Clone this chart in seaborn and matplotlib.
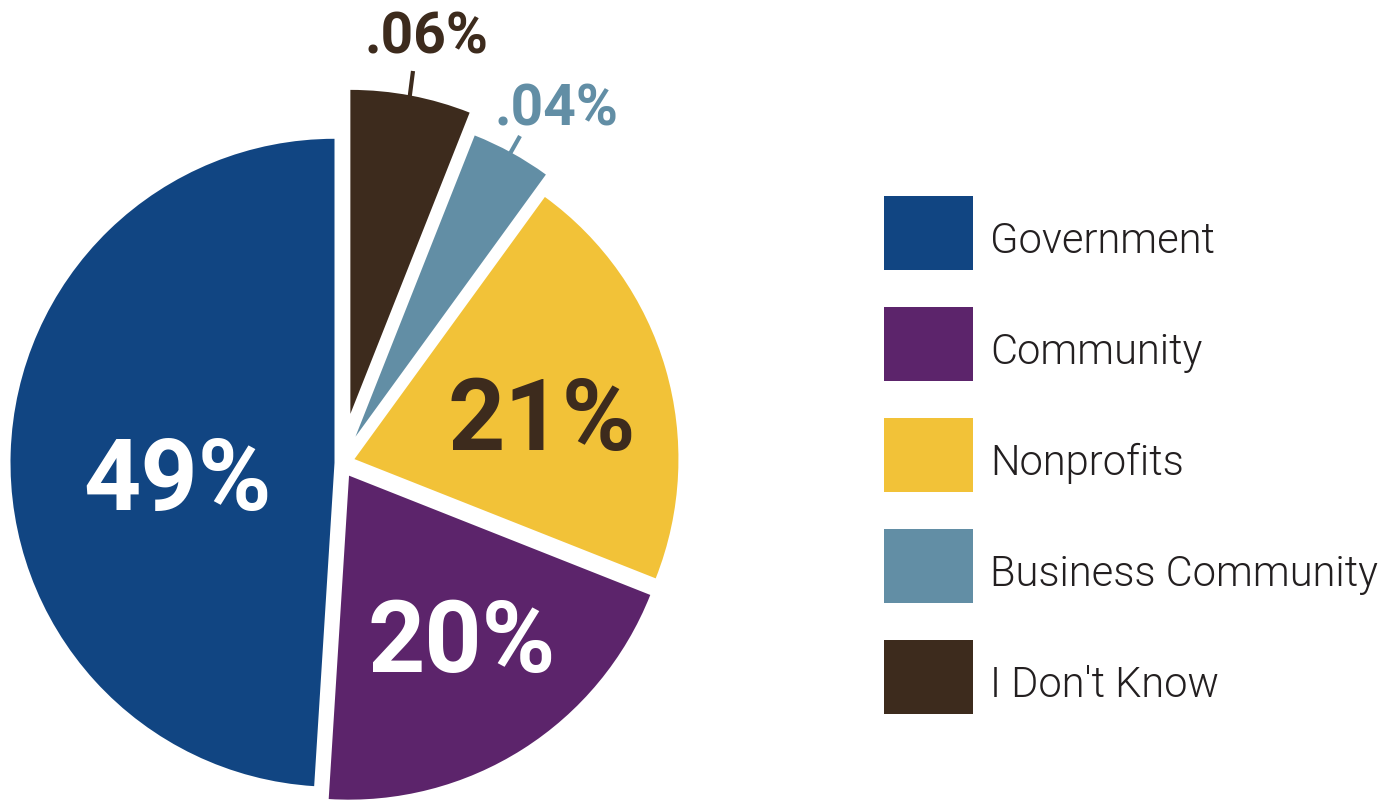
import matplotlib
matplotlib.use("Agg")
import matplotlib.pyplot as plt
from matplotlib.patches import Rectangle
import seaborn as sns

# Survey shares (percent), listed clockwise from 12 o'clock
categories = ["I Don't Know", "Business Community", "Nonprofits", "Community", "Government"]
shares = [6, 4, 21, 20, 49]
share_labels = [".06%", ".04%", "21%", "20%", "49%"]
colors = ["#3d2b1d", "#628ea5", "#f2c238", "#5c246b", "#114582"]
explode = [50, 30, 14, 15, 6.5]  # offsets in data units (pixels)

sns.set_theme(style="white")
plt.rcParams["font.family"] = ["Roboto", "DejaVu Sans"]

W, H = 1393, 802
fig = plt.figure(figsize=(W / 100, H / 100), dpi=100)
ax = fig.add_axes([0, 0, 1, 1])

center = (341, 339)
radius = 324
wedges, _ = ax.pie(
    shares,
    colors=colors,
    explode=explode,
    startangle=90,
    counterclock=False,
    center=center,
    radius=radius,
    wedgeprops=dict(linewidth=0),
    frame=True,
)
ax.set_xlim(0, W)
ax.set_ylim(0, H)
ax.set_aspect("equal")
ax.axis("off")

# Large in-slice labels
big = dict(fontsize=72, fontweight="bold", ha="center", va="baseline")
ax.text(178, 292, share_labels[4], color="white", **big)
ax.text(462, 130, share_labels[3], color="white", **big)
ax.text(542, 352, share_labels[2], color="#3d2b1d", **big)

# Small outside labels with leader lines
small = dict(fontsize=41, fontweight="bold", ha="center", va="baseline")
ax.text(427, 749, share_labels[0], color=colors[0], **small)
ax.plot([413, 409], [731, 700], color=colors[0], lw=3, solid_capstyle="butt")
ax.text(556, 677, share_labels[1], color=colors[1], **small)
ax.plot([520, 507], [666, 643], color=colors[1], lw=3, solid_capstyle="butt")

# Key, Government first
key_top = H - 196
for i, (w, name) in enumerate(zip(wedges[::-1], categories[::-1])):
    top = key_top - i * 111
    ax.add_patch(Rectangle((884, top - 74), 89, 74, facecolor=w.get_facecolor(),
                           edgecolor="none"))
    ax.text(990, top - 57, name, fontsize=30, fontweight=300, color="#231f20",
            ha="left", va="baseline")

fig.savefig("out.png", dpi=100, facecolor="white")
